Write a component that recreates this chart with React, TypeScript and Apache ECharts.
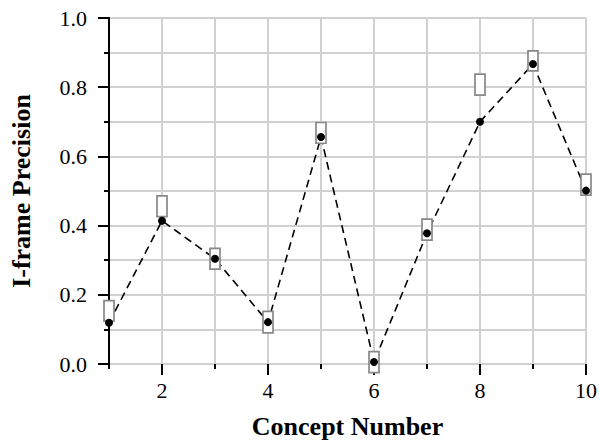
import React, { useEffect, useRef } from "react";
import * as echarts from "echarts";

const categories = ["1", "2", "3", "4", "5", "6", "7", "8", "9", "10"];
const precision = [0.119, 0.414, 0.304, 0.121, 0.656, 0.006, 0.378, 0.7, 0.867, 0.501];
const boxLow = [0.124, 0.426, 0.274, 0.09, 0.638, -0.025, 0.358, 0.777, 0.847, 0.488];
const boxHigh = [0.183, 0.486, 0.334, 0.152, 0.698, 0.036, 0.419, 0.838, 0.905, 0.549];
const yTicks = [0, 0.2, 0.4, 0.6, 0.8, 1.0];

const FONT = '"Liberation Serif", "Times New Roman", serif';

export default function App() {
  const ref = useRef<HTMLDivElement>(null);
  useEffect(() => {
    if (!ref.current) return;
    const chart = echarts.init(ref.current, null, { renderer: "svg" });
    const boxData = categories.map((_, i) => [i, boxLow[i], boxHigh[i]]);
    chart.setOption({
      animation: false,
      grid: { left: 107, right: 13, top: 18, bottom: 81 },
      xAxis: [
        {
          type: "category",
          data: categories,
          boundaryGap: false,
          name: "Concept Number",
          nameLocation: "middle",
          nameGap: 49,
          nameTextStyle: { fontFamily: FONT, fontSize: 26, fontWeight: "bold", color: "#000" },
          axisLine: { show: false },
          axisTick: { show: true, length: 5, interval: 0, lineStyle: { color: "#000", width: 2 } },
          axisLabel: {
            show: true,
            interval: (idx: number) => idx % 2 === 1,
            margin: 15,
            fontFamily: FONT,
            fontSize: 22,
            color: "#000",
          },
          splitLine: { show: true, interval: 0, lineStyle: { color: "#d0d0d0", width: 2 } },
        },
        {
          type: "category",
          data: categories,
          boundaryGap: false,
          position: "bottom",
          axisLine: { show: false },
          axisTick: {
            show: true,
            length: 11,
            interval: (idx: number) => idx % 2 === 1,
            lineStyle: { color: "#000", width: 2 },
          },
          axisLabel: { show: false },
          splitLine: { show: false },
        },
      ],
      yAxis: {
        type: "value",
        min: yTicks[0],
        max: yTicks[yTicks.length - 1],
        interval: 0.2,
        name: "I-frame Precision",
        nameLocation: "middle",
        nameGap: 75,
        nameTextStyle: { fontFamily: FONT, fontSize: 26, fontWeight: "bold", color: "#000" },
        axisLine: { show: true, lineStyle: { color: "#000", width: 2 } },
        axisTick: { show: true, length: 11, lineStyle: { color: "#000", width: 2 } },
        minorTick: { show: true, splitNumber: 2, length: 5, lineStyle: { color: "#000", width: 2 } },
        axisLabel: {
          margin: 22,
          fontFamily: FONT,
          fontSize: 22,
          color: "#000",
          formatter: (v: number) => v.toFixed(1),
        },
        splitLine: { show: true, lineStyle: { color: "#d0d0d0", width: 2 } },
        minorSplitLine: { show: true, lineStyle: { color: "#d0d0d0", width: 2 } },
      },
      series: [
        {
          type: "line",
          data: precision,
          symbol: "none",
          z: 2,
          lineStyle: { color: "#000", width: 1.6, type: [8, 5] },
        },
        {
          type: "custom",
          z: 3,
          clip: false,
          data: boxData,
          renderItem: (params: any, api: any) => {
            const idx = api.value(0);
            const lo = api.coord([idx, api.value(1)]);
            const hi = api.coord([idx, api.value(2)]);
            return {
              type: "rect",
              shape: { x: lo[0] - 5, y: hi[1], width: 10, height: lo[1] - hi[1] },
              style: { fill: "#fff", stroke: "#888", lineWidth: 1.7 },
            };
          },
        },
        {
          type: "scatter",
          z: 4,
          data: precision,
          symbol: "circle",
          symbolSize: 8,
          itemStyle: { color: "#000", opacity: 1 },
        },
      ],
    });
    return () => chart.dispose();
  }, []);
  return (
    <div
      ref={ref}
      style={{ position: "fixed", left: 0, top: 0, width: 600, height: 445, background: "#fff" }}
    />
  );
}
